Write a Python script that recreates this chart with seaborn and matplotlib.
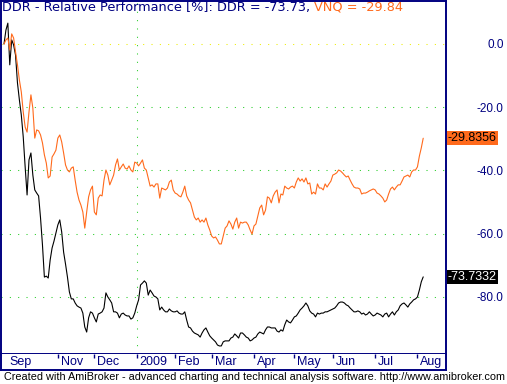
import numpy as np
import pandas as pd
import seaborn as sns
import matplotlib.pyplot as plt

# relative performance in %, one value per trading day starting 2008-09-24
ddr = [0.0, 4.4, 6.6, -6.6, 1.3, -0.3, -3.5, -12.3, -17.7, -22.5,
       -29.4, -38.9, -47.8, -36.7, -34.5, -41.5, -46.2, -47.2, -48.1, -55.1,
       -63.6, -73.8, -73.5, -74.1, -68.4, -64.6, -62.4, -59.8, -57.3, -55.7,
       -59.5, -65.9, -69.7, -73.8, -78.5, -80.7, -80.7, -82.0, -82.9, -83.3,
       -83.6, -85.2, -89.6, -91.2, -86.7, -84.8, -85.2, -86.7, -88.0, -85.5,
       -85.2, -84.8, -83.6, -78.8, -80.1, -81.0, -82.0, -84.8, -84.8, -85.2,
       -86.7, -85.5, -85.2, -85.8, -86.1, -86.1, -87.1, -86.7, -85.2, -82.9,
       -81.0, -76.3, -75.7, -75.0, -75.7, -79.5, -77.9, -78.8, -79.8, -80.1,
       -80.7, -84.2, -83.3, -84.2, -84.8, -84.8, -83.9, -84.5, -84.8, -84.8,
       -84.5, -85.2, -85.5, -85.5, -84.8, -87.4, -89.6, -89.9, -90.9, -91.5,
       -91.8, -92.1, -92.8, -91.5, -90.5, -89.9, -91.2, -92.4, -93.1, -93.7,
       -94.3, -95.3, -95.6, -95.6, -94.3, -94.0, -94.0, -94.0, -93.1, -92.8,
       -91.8, -92.4, -93.1, -91.5, -91.5, -92.1, -92.8, -93.1, -94.0, -93.7,
       -93.1, -92.8, -91.8, -91.2, -91.5, -91.8, -90.5, -89.6, -89.6, -89.9,
       -89.9, -89.9, -90.9, -91.2, -90.5, -90.9, -88.9, -87.4, -88.0, -88.3,
       -87.4, -86.4, -86.1, -85.2, -84.2, -83.6, -82.9, -82.0, -82.9, -84.5,
       -85.2, -85.5, -86.4, -85.2, -85.5, -85.2, -85.2, -84.8, -84.8, -84.5,
       -84.2, -83.9, -83.6, -82.9, -82.0, -81.7, -81.7, -82.0, -82.6, -82.9,
       -83.6, -84.2, -84.8, -84.8, -84.5, -84.8, -85.5, -85.2, -85.8, -85.5,
       -84.8, -85.5, -86.1, -85.8, -85.2, -85.5, -85.8, -86.4, -85.5, -85.2,
       -86.4, -85.5, -84.8, -85.8, -84.8, -84.2, -82.9, -82.3, -82.0, -82.6,
       -83.3, -82.3, -81.7, -81.0, -80.7, -80.1, -77.9, -75.3, -73.7332]
vnq = [0.0, 1.3, 1.9, -1.9, 3.2, 1.9, -2.5, -6.6, -11.4, -15.2,
       -21.5, -26.3, -27.9, -21.5, -16.1, -20.3, -29.8, -27.2, -27.5, -28.8,
       -31.3, -35.1, -37.7, -42.4, -41.8, -35.8, -34.8, -33.6, -29.8, -28.8,
       -31.0, -34.5, -38.3, -39.9, -40.5, -39.3, -38.9, -43.1, -46.9, -49.4,
       -51.0, -53.2, -58.3, -53.2, -48.4, -46.2, -45.0, -53.2, -54.1, -48.8,
       -47.8, -48.1, -43.1, -39.9, -41.5, -44.6, -43.1, -41.5, -38.3, -36.4,
       -39.9, -38.9, -38.0, -39.3, -39.6, -38.6, -39.9, -40.5, -37.4, -37.7,
       -38.6, -37.7, -36.7, -39.3, -39.9, -42.4, -45.0, -44.6, -45.3, -44.3,
       -44.3, -48.8, -45.6, -45.9, -46.2, -45.6, -43.7, -43.1, -46.2, -47.2,
       -47.5, -48.1, -48.4, -46.9, -45.0, -48.1, -49.4, -50.3, -52.6, -54.8,
       -55.7, -55.1, -56.4, -55.7, -56.4, -55.1, -57.3, -58.9, -60.8, -61.4,
       -61.1, -62.1, -63.3, -63.3, -60.8, -58.3, -57.6, -56.0, -57.0, -58.6,
       -56.4, -55.1, -58.3, -56.4, -56.7, -56.4, -56.4, -57.3, -58.9, -60.2,
       -57.6, -57.0, -54.5, -51.9, -51.0, -54.1, -52.6, -48.4, -48.8, -50.3,
       -48.1, -46.9, -46.2, -50.3, -47.5, -47.8, -45.0, -45.6, -45.9, -45.3,
       -45.0, -45.6, -43.7, -42.4, -43.4, -42.7, -43.7, -42.4, -44.3, -44.0,
       -47.5, -46.9, -47.5, -44.3, -45.6, -45.6, -46.2, -44.3, -45.3, -44.3,
       -43.4, -41.5, -41.2, -40.8, -39.9, -40.2, -40.8, -41.5, -42.1, -41.8,
       -43.1, -44.3, -45.3, -45.6, -45.6, -45.9, -47.5, -47.2, -47.2, -46.9,
       -46.5, -46.2, -45.9, -46.2, -47.2, -47.5, -48.1, -48.8, -50.0, -49.4,
       -47.5, -45.9, -45.3, -46.2, -45.3, -44.6, -44.6, -43.4, -42.1, -41.8,
       -41.5, -42.1, -40.5, -39.9, -39.9, -38.9, -35.5, -32.9, -29.8356]

# first trading day of each month (bar number) and its label
month_days = [28, 47, 69, 89, 108, 130, 151, 171, 193, 215]
month_labels = ['Nov', 'Dec', '2009', 'Feb', 'Mar', 'Apr', 'May', 'Jun', 'Jul', 'Aug']
first_label = 'Sep'
y_ticks = [0, -20, -40, -60, -80]

navy = '#000080'
orange = '#ff6a1c'
green = '#22cc22'
yellow = '#eeee00'

sns.set_style('white')
plt.rcParams['font.family'] = ['Liberation Sans', 'DejaVu Sans']

df = pd.DataFrame({'day': np.arange(len(ddr)), 'DDR': ddr, 'VNQ': vnq})

fig = plt.figure(figsize=(5.07, 3.84), dpi=100)
ax = fig.add_axes([1 / 507, 30 / 384, 445 / 507, 353.5 / 384])
ax2 = fig.add_axes([1 / 507, 14 / 384, 445 / 507, 16 / 384])

sns.lineplot(data=df, x='day', y='DDR', ax=ax, color='black', lw=0.8)
sns.lineplot(data=df, x='day', y='VNQ', ax=ax, color=orange, lw=0.8)

ax.set_xlim(-1.56, 229.85)
ax.set_ylim(-98.15, 13.77)
ax.set_xlabel('')
ax.set_ylabel('')
ax.set_xticks([])

# y axis on the right, dotted grid
ax.yaxis.tick_right()
ax.set_yticks(y_ticks, labels=[f'{t:.1f}' for t in y_ticks], ha='right')
ax.tick_params(axis='y', length=0, pad=41.5, labelsize=8.5, labelcolor=navy)
ax.grid(axis='y', color=green, linestyle=(0, (1, 7)), linewidth=0.75)
ax.get_ygridlines()[0].set_color(yellow)
ax.axvline(month_days[2], color=green, linestyle=(0, (1, 7)), linewidth=0.75, zorder=1)

for sp in ax.spines.values():
    sp.set_color(navy)
    sp.set_linewidth(1.4)

# last value boxes
ax.annotate(f'{vnq[-1]:.4f}', xy=(1, vnq[-1]), xycoords=('axes fraction', 'data'),
            xytext=(2, 0), textcoords='offset pixels', va='center', ha='left',
            fontsize=9, color='black', annotation_clip=False,
            bbox=dict(boxstyle='square,pad=0.08', fc=orange, ec='none'))
ax.annotate(f'{ddr[-1]:.4f}', xy=(1, ddr[-1]), xycoords=('axes fraction', 'data'),
            xytext=(2, 0), textcoords='offset pixels', va='center', ha='left',
            fontsize=9, color='white', annotation_clip=False,
            bbox=dict(boxstyle='square,pad=0.08', fc='black', ec='none'))

# date strip
ax2.set_xlim(ax.get_xlim())
ax2.set_ylim(0, 1)
ax2.set_yticks([])
ax2.set_xticks(month_days)
ax2.tick_params(axis='x', direction='in', top=True, bottom=False, labelbottom=False,
                length=3, width=1, color=navy)
for sp in ax2.spines.values():
    sp.set_color(navy)
    sp.set_linewidth(1.4)
ax2.spines['top'].set_visible(False)
for d, lbl in zip(month_days, month_labels):
    ax2.annotate(lbl, xy=(d, 1), xycoords=('data', 'axes fraction'), xytext=(3, -2),
                 textcoords='offset pixels', ha='left', va='top', fontsize=9, color=navy)
ax2.annotate(first_label, xy=(0, 1), xycoords='axes fraction', xytext=(8, -2),
             textcoords='offset pixels', ha='left', va='top', fontsize=9, color=navy)

# title in two colours
t1 = fig.text(2 / 507, 1 - 1 / 384, f'DDR - Relative Performance [%]: DDR = {ddr[-1]:.2f}, ',
              color=navy, fontsize=9.3, va='top', ha='left', family='DejaVu Sans')
ax.annotate(f'VNQ = {vnq[-1]:.2f}', xy=(1, 0), xycoords=t1, va='bottom', ha='left',
            color=orange, fontsize=9.3, annotation_clip=False, family='DejaVu Sans')

fig.text(4 / 507, 1 - 377 / 384,
         'Created with AmiBroker - advanced charting and technical analysis software. http://www.amibroker.com',
         fontsize=7.8, va='center', ha='left', color='black')

fig.savefig('out.png', dpi=100)
